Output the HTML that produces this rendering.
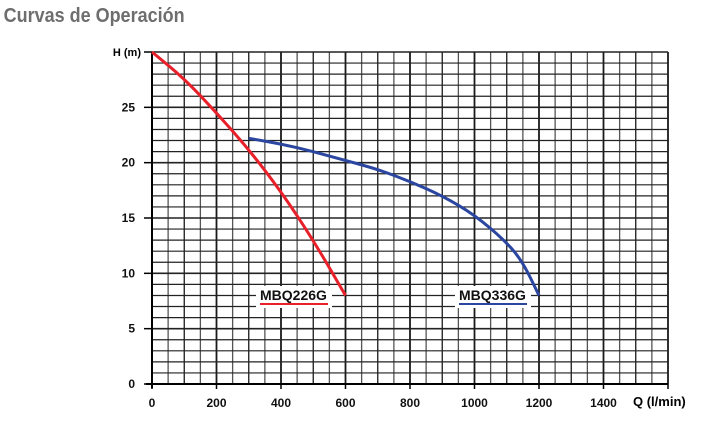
<!DOCTYPE html>
<html><head><meta charset="utf-8"><style>
body{margin:0;background:#fff;width:703px;height:416px;overflow:hidden;font-family:"Liberation Sans",sans-serif}
</style></head><body>
<svg width="703" height="416">
<text x="4" y="22" font-size="20" font-weight="bold" fill="#6e6e6e" transform="scale(0.9,1)">Curvas de Operación</text>
<g id="grid"></g>
<g id="axes"></g>
<g id="series"></g>
</svg>
<script>
const qTicks=[0,200,400,600,800,1000,1200,1400];
const hTicks=[0,5,10,15,20,25];
const seriesNames=["MBQ226G","MBQ336G"];
const redQ=[0,100,200,300,400,500,600];
const redH=[30,27.6,24.5,21.2,17.4,13,8];
const blueQ=[300,400,500,600,700,800,900,1000,1100,1150,1200];
const blueH=[22.2,21.7,21,20.2,19.4,18.3,17,15.3,12.8,11,8];
const X0=152,X1=668,Y0=384,Y1=52,QMAX=1600,HMAX=30;
const sx=q=>X0+q/QMAX*(X1-X0), sy=h=>Y0-h/HMAX*(Y0-Y1);
const NS="http://www.w3.org/2000/svg";
function mk(t,a,p){const e=document.createElementNS(NS,t);for(const k in a)e.setAttribute(k,a[k]);p.appendChild(e);return e;}
const grid=document.getElementById('grid'),axes=document.getElementById('axes'),ser=document.getElementById('series');
for(let q=0;q<=QMAX;q+=50){const l=mk('line',{x1:sx(q),x2:sx(q),y1:Y1,y2:Y0,stroke:q%100===0?'#1a1a1a':'#555','stroke-width':q%200===0?1.8:1.3},grid);

}
for(let h=0;h<=HMAX;h+=1){const l=mk('line',{x1:X0,x2:X1,y1:sy(h),y2:sy(h),stroke:'#222','stroke-width':h%5===0?1.6:1.2},grid);

}
mk('line',{x1:X0,x2:X0,y1:Y1,y2:Y0+4,stroke:'#000','stroke-width':2},axes);
mk('line',{x1:X0-6,x2:X1,y1:Y0,y2:Y0,stroke:'#000','stroke-width':2},axes);
qTicks.forEach(q=>{mk('line',{x1:sx(q),x2:sx(q),y1:Y0,y2:Y0+5,stroke:'#000','stroke-width':1.5},axes);
const t=mk('text',{x:sx(q),y:Y0+23,'text-anchor':'middle','font-size':12,'font-weight':'bold',fill:'#111'},axes);t.textContent=q;

});
mk('line',{x1:X1,x2:X1,y1:Y0,y2:Y0+5,stroke:'#000','stroke-width':1.5},axes);
hTicks.forEach(h=>{mk('line',{x1:X0-8,x2:X0,y1:sy(h),y2:sy(h),stroke:'#000','stroke-width':1.5},axes);
const t=mk('text',{x:X0-17,y:sy(h)+4,'text-anchor':'end','font-size':12,'font-weight':'bold',fill:'#111'},axes);t.textContent=h;

});
mk('line',{x1:X0-8,x2:X0,y1:Y1,y2:Y1,stroke:'#000','stroke-width':1.5},axes);
let t=mk('text',{x:141,y:56,'text-anchor':'end','font-size':11,'font-weight':'bold'},axes);t.textContent='H (m)';


t=mk('text',{x:633,y:406,'font-size':13,'font-weight':'bold'},axes);t.textContent='Q (l/min)';


function path(Q,H){let d='';for(let i=0;i<Q.length;i++){const x=sx(Q[i]),y=sy(H[i]);if(i===0)d='M'+x+','+y;else{const px=sx(Q[i-1]),py=sy(H[i-1]);const mx=(px+x)/2,my=(py+y)/2;d+=' Q'+px+','+py+' '+mx+','+my;}}d+=' L'+sx(Q[Q.length-1])+','+sy(H[H.length-1]);return d;}
let p=mk('path',{d:path(redQ,redH),fill:'none',stroke:'#e8202a','stroke-width':3},ser);


p=mk('path',{d:path(blueQ,blueH),fill:'none',stroke:'#2b46a0','stroke-width':3},ser);


function label(txt,x,y,col,name){mk('rect',{x:x-4,y:y-14,width:76,height:22,fill:'#fff'},ser);
const tt=mk('text',{x:x,y:y,'font-size':14,'font-weight':'bold',fill:'#111'},ser);tt.textContent=txt;


mk('line',{x1:x,x2:x+68,y1:y+4,y2:y+4,stroke:col,'stroke-width':2},ser);}
label(seriesNames[0],260,300,'#e8202a','label-mbq226g');
label(seriesNames[1],459,300,'#2b46a0','label-mbq336g');
</script>
</body></html>
